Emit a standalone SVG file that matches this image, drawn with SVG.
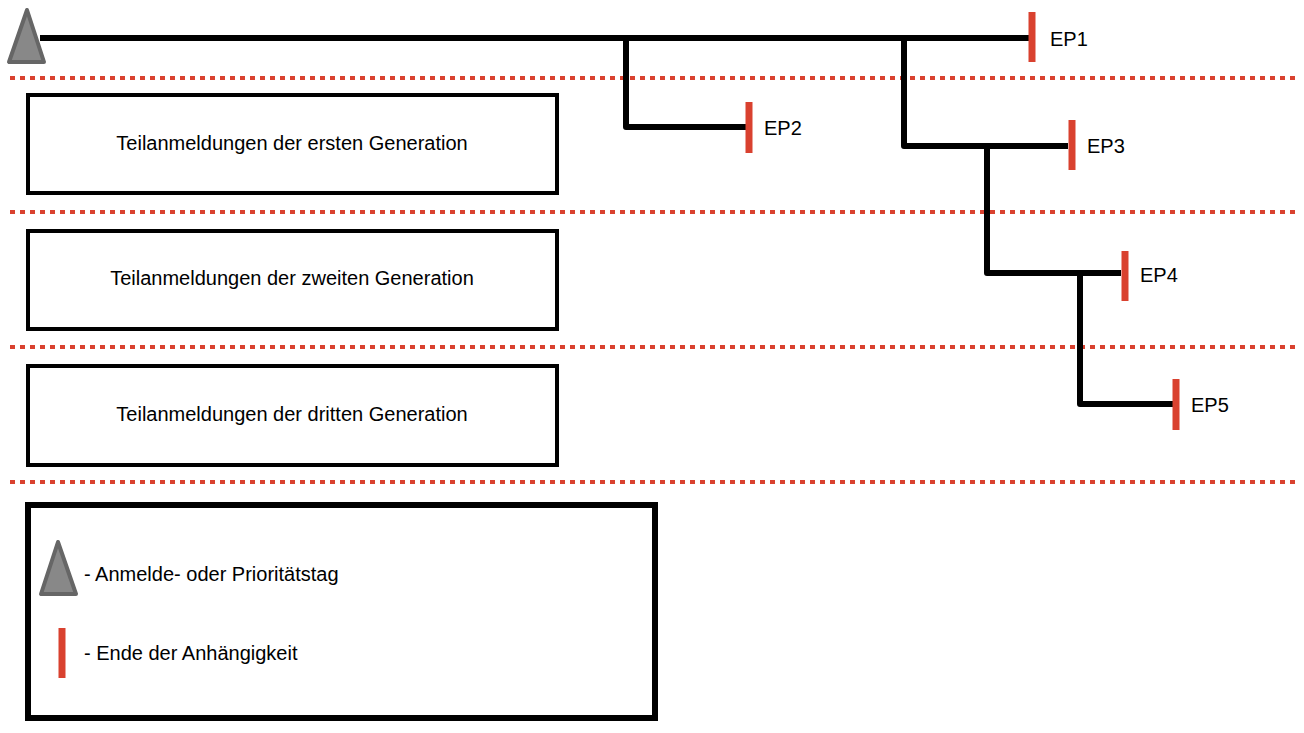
<svg xmlns="http://www.w3.org/2000/svg" width="1304" height="733" viewBox="0 0 1304 733">
<style>
.t{font-family:"Liberation Sans",Arial,sans-serif;font-size:20px;fill:#000}
.box{fill:#fff;stroke:#000;stroke-width:4}
.sep{stroke:#d9412f;stroke-width:4;stroke-dasharray:5 5;fill:none}
.ln{stroke:#000;stroke-width:6;fill:none;stroke-linejoin:round}
.ep{stroke:#d9412f;stroke-width:7}
.tri{fill:#888;stroke:#666;stroke-width:4;stroke-linejoin:round}
</style>
<rect width="1304" height="733" fill="#fff"/>
<g id="separators">
<line class="sep" x1="10" y1="78" x2="1296" y2="78"/>
<line class="sep" x1="10" y1="212" x2="1296" y2="212"/>
<line class="sep" x1="10" y1="347" x2="1296" y2="347"/>
<line class="sep" x1="10" y1="482" x2="1296" y2="482"/>
</g>
<g id="connectors">
<path class="ln" d="M40 38H1030"/>
<path class="ln" d="M626 38V127H746"/>
<path class="ln" d="M904 38V146H1068"/>
<path class="ln" d="M987 146V273H1121"/>
<path class="ln" d="M1080 273V404H1173"/>
</g>
<g id="priority"><polygon class="tri" points="27,10 9,62 44,62"/></g>
<g id="ep1"><line class="ep" x1="1032" y1="12" x2="1032" y2="62"/><text class="t" x="1050" y="46">EP1</text></g>
<g id="ep2"><line class="ep" x1="749" y1="102" x2="749" y2="153"/><text class="t" x="764" y="135">EP2</text></g>
<g id="ep3"><line class="ep" x1="1072" y1="120" x2="1072" y2="170"/><text class="t" x="1087" y="153">EP3</text></g>
<g id="ep4"><line class="ep" x1="1125" y1="251" x2="1125" y2="301"/><text class="t" x="1140" y="282">EP4</text></g>
<g id="ep5"><line class="ep" x1="1176" y1="379" x2="1176" y2="430"/><text class="t" x="1191" y="412">EP5</text></g>
<g id="gen1"><rect class="box" x="28" y="95" width="529" height="98"/><text class="t" x="292" y="150" text-anchor="middle">Teilanmeldungen der ersten Generation</text></g>
<g id="gen2"><rect class="box" x="28" y="231" width="529" height="98"/><text class="t" x="292" y="285" text-anchor="middle">Teilanmeldungen der zweiten Generation</text></g>
<g id="gen3"><rect class="box" x="28" y="366" width="529" height="99"/><text class="t" x="292" y="421" text-anchor="middle">Teilanmeldungen der dritten Generation</text></g>
<g id="legend">
<rect x="28" y="505" width="627" height="213" fill="#fff" stroke="#000" stroke-width="6"/>
<polygon class="tri" points="58,542 41,594 76,594"/>
<text class="t" x="84" y="581">- Anmelde- oder Prioritätstag</text>
<line class="ep" x1="62" y1="628" x2="62" y2="678"/>
<text class="t" x="84" y="660">- Ende der Anhängigkeit</text>
</g>
</svg>
